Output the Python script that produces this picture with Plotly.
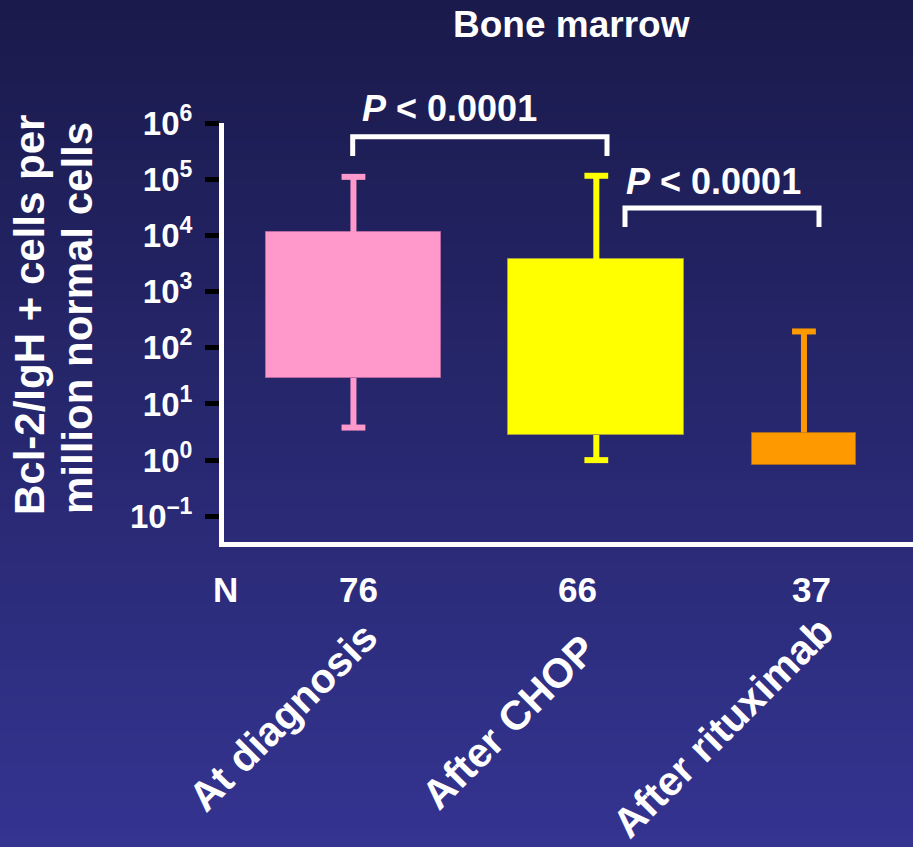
import plotly.graph_objects as go

# ---- data -------------------------------------------------------------
categories = ["At diagnosis", "After CHOP", "After rituximab"]
n_patients = [76, 66, 37]
q1 = [29, 2.8, 0.81]            # lower edge of box
q3 = [11300, 3800, 3.1]         # upper edge of box
whisker_low = [3.8, 1.0, None]  # no lower whisker after rituximab
whisker_high = [110000, 115000, 195]
box_colors = ["#FF99CC", "#FFFF00", "#FF9900"]
edge_colors = ["#B86AA0", "#A0A040", "#A86A20"]
p_labels = ["<i>P</i> < 0.0001", "<i>P</i> < 0.0001"]
y_tick_vals = [0.1, 1, 10, 100, 1e3, 1e4, 1e5, 1e6]
y_tick_text = ["10<sup>–1</sup>", "10<sup>0</sup>", "10<sup>1</sup>", "10<sup>2</sup>",
               "10<sup>3</sup>", "10<sup>4</sup>", "10<sup>5</sup>", "10<sup>6</sup>"]

# ---- layout constants -------------------------------------------------
W, H = 913, 847
ML, MR, MT, MB = 224, 0, 123, 305
FONT = "Liberation Sans, Arial, sans-serif"
x_pos = [0, 1, 1.855]
bar_width = [0.724, 0.724, 0.428]


def fx(p):
    return (p - ML) / (W - ML - MR)


def fy(p):
    return (H - MB - p) / (H - MT - MB)


fig = go.Figure()

# boxes (interquartile range) as floating bars
fig.add_trace(go.Bar(
    x=x_pos, base=q1, y=[hi - lo for hi, lo in zip(q3, q1)],
    width=bar_width,
    marker=dict(color=box_colors, line=dict(color=edge_colors, width=1)),
    showlegend=False, hoverinfo="skip",
))

# whiskers and caps
for xi, lo, b_lo, b_hi, hi, col in zip(x_pos, whisker_low, q1, q3, whisker_high, box_colors):
    fig.add_trace(go.Scatter(x=[xi, xi], y=[b_hi, hi], mode="lines",
                             line=dict(color=col, width=6), showlegend=False, hoverinfo="skip"))
    caps = [hi]
    if lo is not None:
        fig.add_trace(go.Scatter(x=[xi, xi], y=[lo, b_lo], mode="lines",
                                 line=dict(color=col, width=6), showlegend=False, hoverinfo="skip"))
        caps.append(lo)
    fig.add_trace(go.Scatter(x=[xi] * len(caps), y=caps, mode="markers",
                             marker=dict(symbol="line-ew", size=17,
                                         line=dict(color=col, width=6)),
                             showlegend=False, hoverinfo="skip"))

shapes = []
# vertical background gradient
top_rgb, bot_rgb = (26, 26, 76), (52, 52, 145)
n_bands = 90
for i in range(n_bands):
    t = i / (n_bands - 1)
    c = tuple(round(a + (b - a) * t) for a, b in zip(top_rgb, bot_rgb))
    y0 = i * H / n_bands
    y1 = (i + 1) * H / n_bands + 0.5
    shapes.append(dict(type="rect", xref="paper", yref="paper", layer="below",
                       x0=fx(0), x1=fx(W), y0=fy(y1), y1=fy(y0),
                       fillcolor="rgb(%d,%d,%d)" % c, line=dict(width=0)))

# significance brackets
for (xa, xb, ytop, ybot) in [(352.7, 607, 136.7, 156), (625, 819, 208, 227)]:
    shapes.append(dict(
        type="path", xref="paper", yref="paper",
        path="M %f,%f L %f,%f L %f,%f L %f,%f" % (fx(xa), fy(ybot), fx(xa), fy(ytop),
                                                 fx(xb), fy(ytop), fx(xb), fy(ybot)),
        line=dict(color="white", width=5),
    ))

ann = []


def text(s, x, y, size, angle=0):
    ann.append(dict(text=s, x=fx(x), y=fy(y), xref="paper", yref="paper",
                    xanchor="center", yanchor="middle", showarrow=False,
                    textangle=angle,
                    font=dict(family=FONT, size=size, color="white", weight="bold")))


text("Bone marrow", 571.5, 24, 37)
text(p_labels[0], 449, 108, 36)
text(p_labels[1], 713, 181, 36)

# patient counts row
text("N", 225, 589, 35)
for n, px in zip(n_patients, [358, 577, 811]):
    text(str(n), px, 589, 35)

# rotated category labels
for cat, (cx, cy) in zip(categories, [(283, 717), (509, 722), (723, 727)]):
    text(cat, cx, cy, 41, angle=-45)

# y-axis title, two lines
text("Bcl-2/IgH + cells per", 29, 315, 42, angle=-90)
text("million normal cells", 77, 318, 42, angle=-90)

fig.update_layout(
    width=W, height=H,
    margin=dict(l=ML, r=MR, t=MT, b=MB),
    paper_bgcolor="rgb(39,39,110)",
    plot_bgcolor="rgba(0,0,0,0)",
    shapes=shapes, annotations=ann,
    bargap=0,
    xaxis=dict(range=[-0.533, 2.304], showgrid=False, zeroline=False,
               showline=True, linecolor="white", linewidth=5,
               showticklabels=False, ticks="", fixedrange=True),
    yaxis=dict(type="log", range=[-1.457, 6], showgrid=False, zeroline=False,
               showline=True, linecolor="white", linewidth=5,
               tickvals=y_tick_vals, ticktext=y_tick_text,
               ticks="outside", ticklen=14, tickwidth=5, tickcolor="black",
               ticklabelstandoff=6,
               tickfont=dict(family=FONT, size=33, color="white", weight="bold")),
)

fig.write_html("out.html")
